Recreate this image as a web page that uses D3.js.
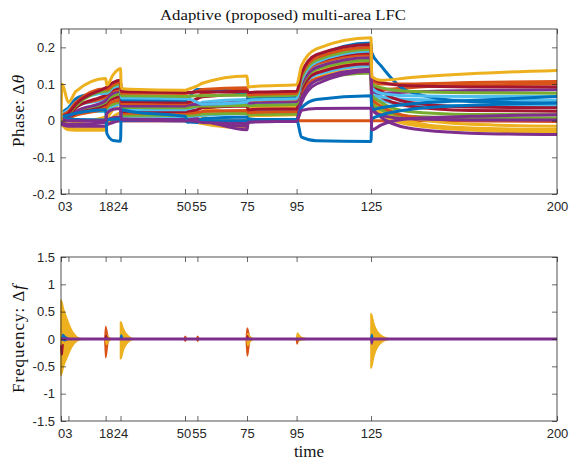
<!DOCTYPE html>
<html>
<head>
<meta charset="utf-8">
<script src="https://cdn.jsdelivr.net/npm/d3@7"></script>
<style>
  html, body { margin: 0; padding: 0; background: #fff; }
  svg { display: block; }
  .tick text { font-family: "Liberation Sans", Arial, Helvetica, sans-serif; font-size: 13px; fill: #262626; }
  .tick line { stroke: #262626; stroke-width: 0.7; }
  .lbl { font-family: "Liberation Serif", "DejaVu Serif", serif; fill: #111; }
</style>
</head>
<body>
<svg id="fig" width="571" height="464"></svg>
<script>
// ---------- shared axis data ----------
const timeTicks = [0, 3, 18, 24, 50, 55, 75, 95, 125, 200];
const phaseTicks = [-0.2, -0.1, 0, 0.1, 0.2];
const freqTicks = [-1.5, -1, -0.5, 0, 0.5, 1, 1.5];

// sample instants shared by every phase trace
const phaseTimes = [0, 0.4, 3, 6, 18, 18.5, 21, 24, 24.3, 28, 50, 51, 55, 57, 75, 75.5, 79, 95, 97, 103, 125, 125.3, 129, 140, 165, 200];

// ---------- phase deviations (rad) ----------
const thetaRef   = [0, 0, 0, 0, 0, 0, 0, 0, 0, 0, 0, 0, 0, 0, 0, 0, 0, 0, 0, 0, 0, 0, 0, 0, 0, 0];
const thetaDr1   = [0, 0.01, 0.02, 0.045, 0.09, 0.092, 0.104, 0.11, 0.08, 0.079, 0.077, 0.077, 0.078, 0.078, 0.08, 0.077, 0.078, 0.08, 0.13, 0.18, 0.208, 0.12, 0.105, 0.095, 0.092, 0.092];
const thetaOr1   = [0, 0.012, 0.025, 0.05, 0.087, 0.085, 0.098, 0.105, 0.075, 0.075, 0.074, 0.075, 0.08, 0.085, 0.09, 0.07, 0.072, 0.075, 0.125, 0.172, 0.2, 0.11, 0.1, 0.1, 0.104, 0.107];
const thetaGr1   = [0, 0.008, 0.018, 0.04, 0.08, 0.08, 0.095, 0.1, 0.068, 0.068, 0.066, 0.066, 0.068, 0.068, 0.07, 0.066, 0.067, 0.07, 0.118, 0.165, 0.195, 0.1, 0.09, 0.08, 0.076, 0.075];
const thetaCy1   = [0, 0.015, 0.03, 0.05, 0.075, 0.075, 0.09, 0.095, 0.062, 0.062, 0.06, 0.06, 0.05, 0.045, 0.05, 0.055, 0.057, 0.06, 0.11, 0.16, 0.19, 0.09, 0.075, 0.068, 0.066, 0.066];
const thetaBl1   = [0, 0.02, 0.035, 0.06, 0.085, 0.088, 0.1, 0.105, 0.058, 0.057, 0.056, 0.06, 0.085, 0.085, 0.075, 0.06, 0.062, 0.065, 0.12, 0.175, 0.212, 0.185, 0.15, 0.08, 0.052, 0.048];
const thetaDr2   = [0, 0.005, 0.015, 0.035, 0.07, 0.072, 0.085, 0.09, 0.052, 0.052, 0.05, 0.05, 0.06, 0.065, 0.072, 0.062, 0.064, 0.066, 0.115, 0.16, 0.185, 0.1, 0.08, 0.05, 0.037, 0.035];
const thetaOr2   = [0, 0.01, 0.02, 0.04, 0.065, 0.07, 0.082, 0.085, 0.047, 0.047, 0.046, 0.048, 0.06, 0.075, 0.085, 0.055, 0.056, 0.058, 0.11, 0.155, 0.18, 0.09, 0.085, 0.09, 0.097, 0.1];
const thetaPu2   = [0, 0.005, 0.01, 0.025, 0.055, 0.06, 0.075, 0.08, 0.04, 0.04, 0.04, 0.042, 0.045, 0.045, 0.05, 0.048, 0.05, 0.052, 0.1, 0.145, 0.172, 0.08, 0.075, 0.078, 0.082, 0.084];
const thetaGr2   = [0, 0.005, 0.012, 0.025, 0.05, 0.055, 0.068, 0.072, 0.036, 0.036, 0.035, 0.035, 0.04, 0.04, 0.042, 0.04, 0.042, 0.044, 0.095, 0.14, 0.165, 0.07, 0.05, 0.025, 0.017, 0.016];
const thetaCy2   = [0, 0.01, 0.025, 0.04, 0.06, 0.062, 0.07, 0.075, 0.03, 0.03, 0.03, 0.032, 0.04, 0.05, 0.058, 0.045, 0.046, 0.048, 0.1, 0.148, 0.175, 0.075, 0.065, 0.058, 0.056, 0.056];
const thetaDr3   = [0, 0.005, 0.01, 0.02, 0.045, 0.05, 0.06, 0.065, 0.025, 0.025, 0.025, 0.026, 0.03, 0.035, 0.04, 0.03, 0.031, 0.032, 0.085, 0.13, 0.155, 0.085, 0.065, 0.04, 0.028, 0.026];
const thetaOr3   = [0, 0.003, 0.008, 0.015, 0.035, 0.04, 0.052, 0.055, 0.02, 0.02, 0.02, 0.02, 0.022, 0.025, 0.028, 0.022, 0.023, 0.025, 0.075, 0.115, 0.135, 0.06, 0.04, 0.012, 0.0, -0.002];
const thetaGr3   = [0, 0.005, 0.012, 0.02, 0.03, 0.035, 0.045, 0.05, 0.015, 0.015, 0.014, 0.014, 0.016, 0.018, 0.02, 0.016, 0.017, 0.018, 0.07, 0.11, 0.13, 0.05, 0.03, 0.012, 0.008, 0.007];
const thetaCy3   = [0, 0.015, 0.02, 0.025, 0.025, 0.03, 0.04, 0.045, 0.012, 0.012, 0.011, 0.01, 0.012, 0.015, 0.02, 0.025, 0.026, 0.028, 0.08, 0.125, 0.15, 0.07, 0.055, 0.045, 0.041, 0.04];
const thetaYl4   = [0, 0.0, 0.005, 0.015, 0.04, 0.045, 0.07, 0.08, 0.045, 0.044, 0.042, 0.04, 0.038, 0.035, 0.02, 0.035, 0.036, 0.038, 0.1, 0.15, 0.18, 0.085, 0.05, 0.01, -0.01, -0.015];
const thetaYl3   = [0, 0.0, -0.01, -0.005, 0.01, 0.02, 0.045, 0.06, 0.03, 0.03, 0.028, 0.026, 0.02, 0.01, -0.005, 0.02, 0.021, 0.022, 0.09, 0.14, 0.17, 0.07, 0.035, 0.0, -0.025, -0.034];
const thetaYl2   = [0, -0.005, -0.02, -0.022, -0.02, 0.0, 0.03, 0.045, 0.02, 0.02, 0.018, 0.015, 0.005, -0.003, -0.012, 0.012, 0.014, 0.016, 0.08, 0.13, 0.16, 0.06, 0.03, -0.005, -0.02, -0.024];
const thetaYl1   = [0, -0.01, -0.025, -0.026, -0.026, -0.01, 0.01, 0.02, 0.005, 0.005, 0.005, 0.005, -0.005, -0.008, -0.02, -0.004, 0.0, 0.002, 0.06, 0.115, 0.15, 0.05, 0.02, -0.01, -0.025, -0.029];
const thetaPu3   = [0, -0.005, -0.01, -0.01, -0.005, 0.0, 0.008, 0.01, 0.005, 0.004, 0.003, 0.003, 0.005, 0.0, -0.015, 0.002, 0.003, 0.004, 0.06, 0.11, 0.14, 0.04, 0.01, -0.02, -0.034, -0.038];
const thetaPuLow = [0, -0.01, -0.015, -0.015, -0.015, -0.012, -0.005, 0.0, 0.0, 0.0, 0.0, 0.0, 0.002, 0.0, -0.025, -0.004, -0.003, -0.002, 0.05, 0.1, 0.135, 0.03, 0.015, 0.005, 0.002, 0.002];
const thetaBlMid = [0, 0.005, 0.005, 0.003, 0.002, 0.002, 0.004, 0.005, 0.002, 0.001, 0.0, -0.004, -0.003, 0.0, 0.0, 0.0, 0.0, 0.0, 0.035, 0.058, 0.068, 0.03, 0.035, 0.045, 0.055, 0.066];
const thetaBlLow = [0, 0.01, 0.015, 0.02, 0.03, -0.035, -0.054, -0.056, 0.03, 0.025, 0.012, 0.0, -0.005, 0.005, 0.01, 0.005, 0.003, 0.003, -0.045, -0.055, -0.057, 0.005, 0.015, 0.03, 0.042, 0.048];
const thetaPuMid = [0, 0.003, 0.0, 0.0, 0.0, 0.02, 0.031, 0.033, 0.003, 0.002, 0.0, 0.0, -0.002, -0.005, -0.008, -0.004, -0.003, -0.002, 0.028, 0.033, 0.034, -0.025, -0.012, 0.005, 0.012, 0.016];
const thetaYlTop = [0, 0.1, 0.05, 0.08, 0.115, 0.097, 0.125, 0.142, 0.088, 0.086, 0.083, 0.085, 0.095, 0.102, 0.122, 0.092, 0.094, 0.098, 0.15, 0.196, 0.226, 0.12, 0.11, 0.117, 0.128, 0.137];

// drawing order (later traces sit on top) and colour of each trace
const phaseTraces = [
  [thetaRef, "orange"],
  [thetaYl4, "yellow"], [thetaYl3, "yellow"], [thetaYl2, "yellow"], [thetaYl1, "yellow"],
  [thetaCy3, "cyan"], [thetaGr3, "green"], [thetaOr3, "orange"], [thetaDr3, "darkred"],
  [thetaCy2, "cyan"], [thetaGr2, "green"], [thetaPu2, "purple"], [thetaOr2, "orange"],
  [thetaDr2, "darkred"], [thetaBl1, "blue"], [thetaCy1, "cyan"], [thetaGr1, "green"],
  [thetaOr1, "orange"], [thetaDr1, "darkred"],
  [thetaPu3, "purple"], [thetaPuLow, "purple"],
  [thetaBlMid, "blue"], [thetaBlLow, "blue"], [thetaPuMid, "purple"],
  [thetaYlTop, "yellow"]
];

// ---------- frequency deviations: oscillation envelopes after each event ----------
const freqBursts = [
  { color: "yellow",  t: [0, 0.3, 1, 2.3, 3.3, 4.3, 5.3, 6.3, 8],          hi: [0.71, 0.68, 0.55, 0.38, 0.26, 0.16, 0.09, 0.04, 0.005], lo: [-0.66, -0.63, -0.5, -0.35, -0.24, -0.15, -0.08, -0.04, -0.005] },
  { color: "blue",    t: [0.3, 0.8, 1.5, 2.5, 3.5],                         hi: [0, 0.08, 0.05, 0.02, 0],            lo: [0, -0.02, -0.03, -0.01, 0] },
  { color: "darkred", t: [0, 0.15, 0.45, 0.8],                              hi: [-0.12, -0.2, -0.2, -0.1],            lo: [-0.14, -0.29, -0.28, -0.12] },
  { color: "orange",  t: [17.7, 18.0, 18.4, 18.9, 19.6],                    hi: [0, 0.23, 0.16, 0.05, 0],            lo: [0, -0.34, -0.24, -0.06, 0] },
  { color: "yellow",  t: [18, 18.3, 19, 20, 21],                            hi: [0, 0.08, 0.04, 0.01, 0],            lo: [0, -0.1, -0.05, -0.01, 0] },
  { color: "darkred", t: [17.9, 18.2, 18.6],                                hi: [0, 0.07, 0],                        lo: [0, 0.02, 0] },
  { color: "yellow",  t: [24, 24.3, 25, 26, 27, 28, 29.5],                  hi: [0.31, 0.3, 0.2, 0.11, 0.06, 0.025, 0], lo: [-0.36, -0.34, -0.22, -0.12, -0.06, -0.025, 0] },
  { color: "blue",    t: [23.9, 24.3, 24.9],                                hi: [0, 0.07, 0],                        lo: [0, 0.01, 0] },
  { color: "orange",  t: [49.7, 50.1, 50.6],                                hi: [0, 0.05, 0],                        lo: [0, -0.04, 0] },
  { color: "orange",  t: [54.7, 55.1, 55.6],                                hi: [0, 0.05, 0],                        lo: [0, -0.04, 0] },
  { color: "orange",  t: [74.7, 75.1, 75.5, 76, 76.7],                      hi: [0, 0.2, 0.14, 0.04, 0],             lo: [0, -0.31, -0.22, -0.05, 0] },
  { color: "yellow",  t: [75, 75.3, 76, 77, 78],                            hi: [0, 0.1, 0.05, 0.015, 0],            lo: [0, -0.12, -0.06, -0.015, 0] },
  { color: "darkred", t: [74.9, 75.2, 75.6],                                hi: [0, 0.06, 0],                        lo: [0, 0.0, 0] },
  { color: "yellow",  t: [95, 95.3, 96, 97, 98.5, 100],                     hi: [0, 0.11, 0.07, 0.03, 0.01, 0],      lo: [0, -0.05, -0.03, -0.015, -0.005, 0] },
  { color: "orange",  t: [94.9, 95.2, 95.6],                                hi: [0, -0.02, 0],                       lo: [0, -0.09, 0] },
  { color: "yellow",  t: [125, 125.3, 126, 127, 128, 129.5, 131, 133],      hi: [0.46, 0.44, 0.3, 0.18, 0.11, 0.05, 0.02, 0], lo: [-0.53, -0.5, -0.34, -0.2, -0.12, -0.05, -0.02, 0] },
  { color: "blue",    t: [124.9, 125.3, 125.8],                             hi: [0, 0.08, 0],                        lo: [0, 0.02, 0] },
  { color: "purple",  t: [124.9, 125.3, 125.8],                             hi: [0, -0.03, 0],                       lo: [0, -0.09, 0] }
];
// settled frequency of every area
const freqBaseTimes = [0, 200];
const freqBase = [0, 0];

// ---------- styling ----------
const palette = {
  blue: "#0072BD", orange: "#D95319", yellow: "#EDB120", purple: "#7E2F8E",
  green: "#77AC30", cyan: "#4DBEEE", darkred: "#A2142F"
};
const ink = "#262626";

const svg = d3.select("#fig");
const left = 61, right = 557;
const topBox = { y0: 29, y1: 194 };
const botBox = { y0: 257, y1: 421 };

const x = d3.scaleLinear().domain([0, 200]).range([left, right]);
const yPhase = d3.scaleLinear().domain([-0.2, 0.25]).range([topBox.y1, topBox.y0]);
const yFreq = d3.scaleLinear().domain([-1.5, 1.5]).range([botBox.y1, botBox.y0]);

// plain hyphen-minus, as the axis labels are printed
const tickText = d => String(d);
// the 50 and 55 labels sit almost on top of each other; ease them apart a little
const tickNudge = { 50: -1.5, 55: 1.5 };

function drawAxes(y, box, yTicks) {
  const g = svg.append("g");
  const tl = 5;
  g.append("g").attr("transform", `translate(0,${box.y1})`)
    .call(d3.axisBottom(x).tickValues(timeTicks).tickSizeInner(-tl).tickSizeOuter(0).tickPadding(8).tickFormat(tickText))
    .call(a => a.select(".domain").remove())
    .call(a => a.selectAll(".tick text").attr("dx", d => tickNudge[d] || 0));
  g.append("g").attr("transform", `translate(0,${box.y0})`)
    .call(d3.axisTop(x).tickValues(timeTicks).tickSizeInner(-tl).tickSizeOuter(0).tickFormat(""))
    .call(a => a.select(".domain").remove());
  g.append("g").attr("transform", `translate(${left},0)`)
    .call(d3.axisLeft(y).tickValues(yTicks).tickSizeInner(-tl).tickSizeOuter(0).tickPadding(6).tickFormat(tickText))
    .call(a => a.select(".domain").remove());
  g.append("g").attr("transform", `translate(${right},0)`)
    .call(d3.axisRight(y).tickValues(yTicks).tickSizeInner(-tl).tickSizeOuter(0).tickFormat(""))
    .call(a => a.select(".domain").remove());
  g.append("rect").attr("x", left).attr("y", box.y0)
    .attr("width", right - left).attr("height", box.y1 - box.y0)
    .attr("fill", "none").attr("stroke", ink).attr("stroke-width", 0.8);
  return g;
}

// ---------- phase panel ----------
svg.append("clipPath").attr("id", "clipTop").append("rect")
  .attr("x", left).attr("y", topBox.y0).attr("width", right - left).attr("height", topBox.y1 - topBox.y0);
const phaseLine = d3.line()
  .x((d, i) => x(phaseTimes[i]))
  .y(d => yPhase(d))
  .curve(d3.curveMonotoneX);
const gPhase = svg.append("g").attr("clip-path", "url(#clipTop)");
phaseTraces.forEach(([vals, c]) => {
  gPhase.append("path").attr("d", phaseLine(vals))
    .attr("fill", "none").attr("stroke", palette[c])
    .attr("stroke-width", 3).attr("stroke-linejoin", "round").attr("stroke-linecap", "round");
});
drawAxes(yPhase, topBox, phaseTicks);

// ---------- frequency panel ----------
const gFreq = svg.append("g");
const burstArea = d3.area()
  .x(d => x(d.t)).y0(d => yFreq(d.lo)).y1(d => yFreq(d.hi))
  .curve(d3.curveMonotoneX);
freqBursts.forEach(b => {
  const pts = b.t.map((t, i) => ({ t, hi: b.hi[i], lo: b.lo[i] }));
  gFreq.append("path").attr("d", burstArea(pts))
    .attr("fill", palette[b.color]).attr("stroke", palette[b.color])
    .attr("stroke-width", 1.6).attr("stroke-linejoin", "round");
});
const baseLine = d3.line().x((d, i) => x(freqBaseTimes[i])).y(d => yFreq(d));
gFreq.append("path").attr("d", baseLine(freqBase))
  .attr("fill", "none").attr("stroke", palette.purple).attr("stroke-width", 3);
drawAxes(yFreq, botBox, freqTicks);

// ---------- titles and labels ----------
svg.append("text").attr("class", "lbl")
  .attr("x", 283).attr("y", 20).attr("text-anchor", "middle")
  .attr("font-size", 15.5).attr("textLength", 246).attr("lengthAdjust", "spacingAndGlyphs")
  .text("Adaptive (proposed) multi-area LFC");

const phLbl = svg.append("text").attr("class", "lbl")
  .attr("transform", "translate(24,111) rotate(-90)").attr("text-anchor", "middle")
  .attr("font-size", 17).attr("textLength", 72).attr("lengthAdjust", "spacing");
phLbl.append("tspan").text("Phase:  Δ");
phLbl.append("tspan").attr("font-style", "italic").text("θ");

const frLbl = svg.append("text").attr("class", "lbl")
  .attr("transform", "translate(24,339) rotate(-90)").attr("text-anchor", "middle")
  .attr("font-size", 17).attr("textLength", 108).attr("lengthAdjust", "spacing");
frLbl.append("tspan").text("Frequency:  Δ");
frLbl.append("tspan").attr("font-style", "italic").text("f");

svg.append("text").attr("class", "lbl")
  .attr("x", 309).attr("y", 457).attr("text-anchor", "middle")
  .attr("font-size", 17).text("time");
</script>
</body>
</html>
